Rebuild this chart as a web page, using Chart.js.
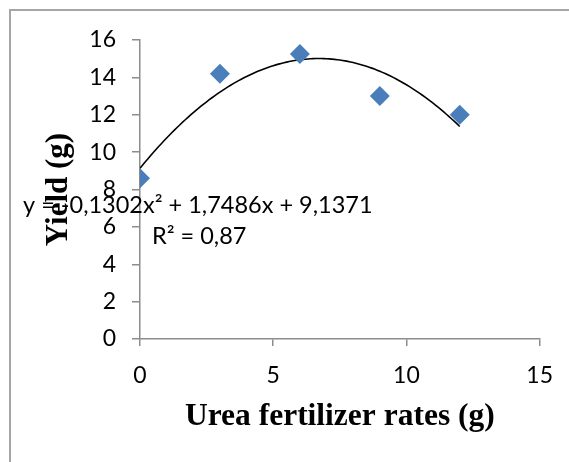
<!DOCTYPE html>
<html>
<head>
<meta charset="utf-8">
<script src="https://cdn.jsdelivr.net/npm/chart.js@4/dist/chart.umd.min.js"></script>
<style>
  html, body { margin: 0; padding: 0; background: #fff; overflow: hidden; }
  .chart-box { position: relative; width: 569px; height: 462px; }
</style>
</head>
<body>
<div class="chart-box"><canvas id="chart1"></canvas></div>
<script>
// data
const rates = [0, 3, 6, 9, 12];
const yields = [8.6, 14.2, 15.25, 13.0, 12.0];
// trendline y = c0 + c1*x + c2*x^2 (as printed on the chart)
const trendCoef = [9.1371, 1.7486, -0.1302];
const xTicks = [0, 5, 10, 15];
const yTicks = [0, 2, 4, 6, 8, 10, 12, 14, 16];
const equationText = 'y = -0,1302x\u00B2 + 1,7486x + 9,1371';
const r2Text = 'R\u00B2 = 0,87';

const sansFont = 'Lato, "Open Sans", sans-serif';
const serifFont = '"Liberation Serif", "Times New Roman", serif';

// points along the fitted curve, over the range of the data
const trendPoints = [];
for (let i = 0; i <= 120; i++) {
  const x = rates[0] + (rates[rates.length - 1] - rates[0]) * i / 120;
  trendPoints.push({ x: x, y: trendCoef[0] + trendCoef[1] * x + trendCoef[2] * x * x });
}

// outer frame (only left and top edges are visible in the picture)
const frame = {
  id: 'frame',
  beforeDraw(chart) {
    const c = chart.ctx;
    c.save();
    c.strokeStyle = '#a6a6a6';
    c.lineWidth = 2;
    c.beginPath();
    c.moveTo(10, chart.height);
    c.lineTo(10, 10);
    c.lineTo(chart.width, 10);
    c.stroke();
    c.restore();
  }
};

const equationLabel = {
  id: 'equationLabel',
  afterDraw(chart) {
    const c = chart.ctx;
    c.save();
    c.fillStyle = '#000';
    c.font = '23.5px ' + sansFont;
    c.textBaseline = 'alphabetic';
    c.textAlign = 'left';
    c.fillText(equationText, 23, 213);
    c.fillText(r2Text, 152, 244);
    c.restore();
  }
};

const axisGrey = '#8c8c8c';

var ctx = document.getElementById('chart1').getContext('2d');
var chart = new Chart(ctx, {
  type: 'scatter',
  data: {
    datasets: [
      {
        label: 'Trend',
        data: trendPoints,
        showLine: true,
        borderColor: '#000',
        borderWidth: 1.6,
        pointRadius: 0,
        fill: false,
        order: 2,
      },
      {
        label: 'Yield',
        data: rates.map((r, i) => ({ x: r, y: yields[i] })),
        pointStyle: 'rectRot',
        pointRadius: 10,
        pointBackgroundColor: '#4a7ebb',
        pointBorderColor: '#4a7ebb',
        pointBorderWidth: 0,
        order: 1,
      },
    ],
  },
  options: {
    responsive: true,
    maintainAspectRatio: false,
    animation: false,
    layout: { padding: { top: 40, right: 28, bottom: 0, left: 0 } },
    plugins: {
      legend: { display: false },
      tooltip: { enabled: false },
    },
    scales: {
      x: {
        type: 'linear',
        min: 0,
        max: 15,
        afterBuildTicks: s => { s.ticks = xTicks.map(v => ({ value: v })); },
        afterFit: s => { s.height = 123; },
        grid: { drawOnChartArea: false, drawTicks: true, tickLength: 7, color: axisGrey, lineWidth: 1.5 },
        border: { color: axisGrey, width: 1.5 },
        ticks: { color: '#000', font: { family: sansFont, size: 23 }, padding: 16 },
        title: {
          display: true,
          text: 'Urea fertilizer rates (g)',
          color: '#000',
          font: { family: serifFont, size: 31.5, weight: 'bold' },
          padding: { top: 0, bottom: 26 },
        },
      },
      y: {
        min: 0,
        max: 16,
        afterBuildTicks: s => { s.ticks = yTicks.map(v => ({ value: v })); },
        afterFit: s => { s.width = 140; },
        grid: { drawOnChartArea: false, drawTicks: true, tickLength: 8, color: axisGrey, lineWidth: 1.5 },
        border: { color: axisGrey, width: 1.5 },
        ticks: { color: '#000', font: { family: sansFont, size: 23 }, padding: 16 },
        title: {
          display: true,
          text: 'Yield (g)',
          color: '#000',
          font: { family: serifFont, size: 31, weight: 'bold' },
          padding: { top: 40, bottom: 0 },
        },
      },
    },
  },
  plugins: [frame, equationLabel],
});
</script>
</body>
</html>
